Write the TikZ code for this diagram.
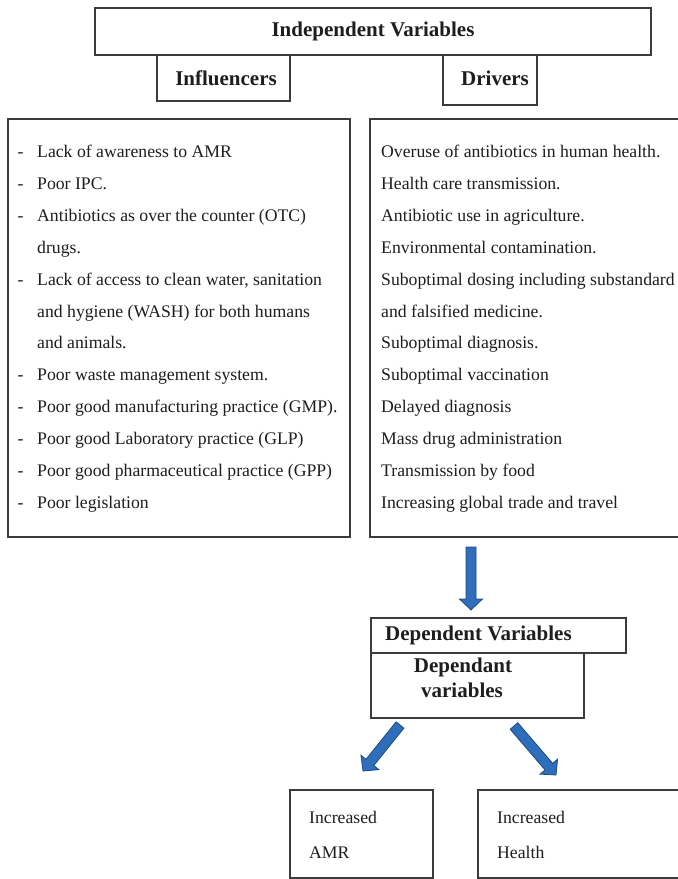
\documentclass[tikz,border=0pt]{standalone}
\usepackage{fontspec}
\setmainfont{Liberation Serif}
\usetikzlibrary{calc}
\definecolor{linegray}{HTML}{3C3C3C}
\definecolor{txt}{HTML}{1E1E1E}
\definecolor{afill}{HTML}{2F6EBA}
\definecolor{aedge}{HTML}{1C4A80}
\tikzset{
  box/.style={draw=linegray, line width=1.2pt, inner sep=0pt, outer sep=0pt, anchor=north west},
  reg/.style={font=\fontsize{17.7}{20}\selectfont, text=txt, inner sep=0pt, anchor=base west},
  hd/.style={font=\fontsize{21}{24}\selectfont\bfseries, text=txt, inner sep=0pt, anchor=base},
  fatarrow/.style={fill=afill, draw=aedge, line width=0.8pt, line join=miter}
}
% block arrow from #1 (shaft start) to #2 (tip)
\newcommand\blockarrow[2]{%
  \coordinate (hb) at ($(#2)!11pt!(#1)$);
  \path[fatarrow] ($(#1)!5pt!-90:(#2)$) -- ($(hb)!5pt!-90:(#2)$) -- ($(hb)!11.5pt!-90:(#2)$)
     -- (#2) -- ($(hb)!11.5pt!90:(#2)$) -- ($(hb)!5pt!90:(#2)$) -- ($(#1)!5pt!90:(#2)$) -- cycle;
}
\begin{document}
\begin{tikzpicture}[x=1pt,y=-1pt]
\useasboundingbox (0,0) rectangle (678,879);
\clip (0,0) rectangle (678,879);
\fill[white] (0,0) rectangle (678,879);

% top boxes
\node[box, minimum width=556pt, minimum height=47pt] (indep) at (95,8) {};
\node[hd] (indept) at (373,36) {Independent Variables};
\node[box, minimum width=133pt, minimum height=46pt] (infl) at (157,55) {};
\node[hd] (inflt) at (226,85) {Influencers};
\node[box, minimum width=94pt, minimum height=50pt] (drv) at (443,55) {};
\node[hd] (drvt) at (495,85) {Drivers};

% list boxes
\node[box, minimum width=342pt, minimum height=418pt] (lbox) at (8,119) {};
\node[box, minimum width=320pt, minimum height=418pt] (rbox) at (370,119) {};

% left list
\node[reg] (d0) at (17.5,157.5) {-};
\node[reg] (l0) at (37,157.5) {Lack of awareness to AMR};
\node[reg] (d1) at (17.5,189.4) {-};
\node[reg] (l1) at (37,189.4) {Poor IPC.};
\node[reg] (d2) at (17.5,221.3) {-};
\node[reg] (l2) at (37,221.3) {Antibiotics as over the counter (OTC)};
\node[reg] (l3) at (37,253.2) {drugs.};
\node[reg] (d4) at (17.5,285.1) {-};
\node[reg] (l4) at (37,285.1) {Lack of access to clean water, sanitation};
\node[reg] (l5) at (37,317.0) {and hygiene (WASH) for both humans};
\node[reg] (l6) at (37,348.9) {and animals.};
\node[reg] (d7) at (17.5,380.8) {-};
\node[reg] (l7) at (37,380.8) {Poor waste management system.};
\node[reg] (d8) at (17.5,412.7) {-};
\node[reg] (l8) at (37,412.7) {Poor good manufacturing practice (GMP).};
\node[reg] (d9) at (17.5,444.6) {-};
\node[reg] (l9) at (37,444.6) {Poor good Laboratory practice (GLP)};
\node[reg] (d10) at (17.5,476.5) {-};
\node[reg] (l10) at (37,476.5) {Poor good pharmaceutical practice (GPP)};
\node[reg] (d11) at (17.5,508.4) {-};
\node[reg] (l11) at (37,508.4) {Poor legislation};

% right list
\node[reg] (r0) at (381,157.5) {Overuse of antibiotics in human health.};
\node[reg] (r1) at (381,189.4) {Health care transmission.};
\node[reg] (r2) at (381,221.3) {Antibiotic use in agriculture.};
\node[reg] (r3) at (381,253.2) {Environmental contamination.};
\node[reg] (r4) at (381,285.1) {Suboptimal dosing including substandard};
\node[reg] (r5) at (381,317.0) {and falsified medicine.};
\node[reg] (r6) at (381,348.9) {Suboptimal diagnosis.};
\node[reg] (r7) at (381,380.8) {Suboptimal vaccination};
\node[reg] (r8) at (381,412.7) {Delayed diagnosis};
\node[reg] (r9) at (381,444.6) {Mass drug administration};
\node[reg] (r10) at (381,476.5) {Transmission by food};
\node[reg] (r11) at (381,508.4) {Increasing global trade and travel};

% dependent boxes
\node[box, minimum width=255pt, minimum height=35pt] (dep) at (371,618) {};
\node[hd, anchor=base west] (dept) at (385,640) {Dependent Variables};
\node[box, minimum width=213pt, minimum height=65pt] (dep2) at (371,653) {};
\node[hd] (dep2a) at (463,672) {Dependant};
\node[hd] (dep2b) at (462,697) {variables};

% result boxes
\node[box, minimum width=143pt, minimum height=88pt] (amr) at (290,790) {};
\node[reg] (amra) at (309,823) {Increased};
\node[reg] (amrb) at (309,858) {AMR};
\node[box, minimum width=215pt, minimum height=88pt] (hlth) at (478,790) {};
\node[reg] (hlta) at (497,823) {Increased};
\node[reg] (hltb) at (497,858) {Health};

% arrows
\coordinate (a1s) at (471,547);
\coordinate (a1e) at (471,610);
\blockarrow{a1s}{a1e}
\coordinate (a2s) at (400,725);
\coordinate (a2e) at (363,771);
\blockarrow{a2s}{a2e}
\coordinate (a3s) at (514,726);
\coordinate (a3e) at (556,775);
\blockarrow{a3s}{a3e}
\end{tikzpicture}
\end{document}
